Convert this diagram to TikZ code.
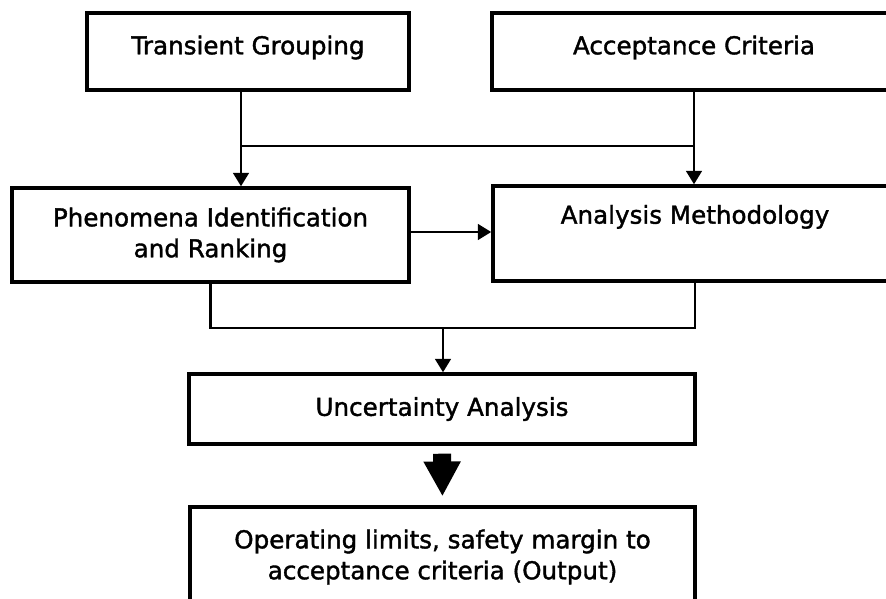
\documentclass[tikz,border=0pt]{standalone}
\usepackage{fontspec}
\setmainfont{DejaVu Sans}[BoldFont=DejaVu Sans,BoldFeatures={FakeBold=1.5}]
\usepackage{tikz}
\usetikzlibrary{arrows.meta}

\begin{document}
\begin{tikzpicture}[x=0.025cm,y=-0.025cm,
    box/.style={draw,line width=2.4pt,inner sep=0pt,align=center,
      font=\fontsize{17.5pt}{22pt}\selectfont\bfseries},
    link/.style={line width=2pt,-{Triangle[length=9.5pt,width=11pt]}},
    bigarrow/.style={line width=12.8pt,-{Triangle[length=24.8pt,width=24.8pt]},
      shorten <=5.7pt,shorten >=6.4pt}]
    \useasboundingbox (0,0) rectangle (886,598);
    \node[box,minimum width=8.05cm,minimum height=1.925cm,
      text height=13pt,text depth=9pt] (trans) at (248,51.5) {Transient Grouping};
    \node[box,minimum width=10.1cm,minimum height=1.925cm,
      text height=13pt,text depth=9pt] (accept) at (694,51.5) {Acceptance Criteria};
    \node[box,minimum width=9.925cm,minimum height=2.35cm] (pir) at (210.5,235)
      {Phenomena Identification\\and Ranking};
    \node[box,minimum width=10.1cm,minimum height=2.375cm,
      text height=13pt,text depth=27pt] (anal) at (695,233.5) {Analysis Methodology};
    \node[box,minimum width=12.65cm,minimum height=1.75cm] (unc) at (442,409)
      {Uncertainty Analysis};
    \node[box,minimum width=12.625cm,minimum height=2.5cm] (out) at (442.5,557)
      {Operating limits, safety margin to\\acceptance criteria (Output)};
    \coordinate (split) at (241,146);
    \coordinate (merge) at (443,328);
    \draw[link] (trans.south -| split) -- (pir.north -| split);
    \draw[line width=2pt] (split) -- (split -| accept.south);
    \draw[link] (accept.south) -- (accept.south |- anal.north);
    \draw[link] (pir.east |- 0,232) -- (anal.west |- 0,232);
    \draw[line width=2pt] (pir.south) |- (merge) -| (anal.south);
    \draw[link] (merge) -- (merge |- unc.north);
    \draw[bigarrow] (unc.south) -- (out.north);
\end{tikzpicture}
\end{document}
